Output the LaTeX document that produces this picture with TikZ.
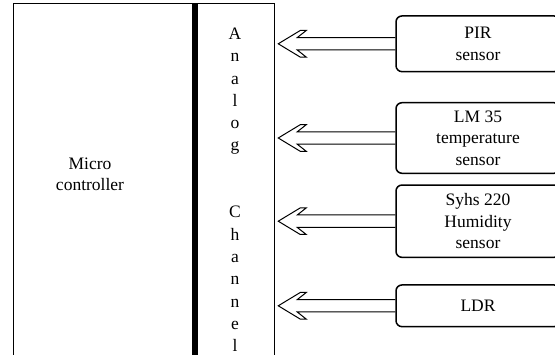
\documentclass[tikz,border=0pt]{standalone}
\usepackage{fontspec}
\setmainfont{Liberation Serif}
\begin{document}
\begin{tikzpicture}[x=1pt,y=-1pt,
  txt/.style={font=\fontsize{17.5}{21.5}\selectfont, inner sep=0pt, align=center},
  sensorbox/.style={draw, line width=1.5pt, rounded corners=6pt, minimum width=164pt, txt},
  arr/.style={line width=1pt, line join=miter},
  frame/.style={line width=1pt}]
\useasboundingbox (0,0) rectangle (555,355);
\clip (0,0) rectangle (555,355);
\fill[white] (0,0) rectangle (555,355);
% microcontroller and analog channel
\draw[frame] (13,365) -- (13,4) -- (274.5,4) -- (274.5,365);
\draw[line width=6pt] (194.5,3.5) -- (194.5,365);
\node[txt] (mc) at (90,174.3) {Micro\\controller};
\coordinate (ch) at (235,0);
\foreach \c [count=\i from 0] in {A,n,a,l,o,g,{},{},C,h,a,n,n,e,l}{
  \node[txt, anchor=base] (ch\i) at (235,39.5+22.3*\i) {\c};
}
% sensors
\node[sensorbox, minimum height=55.7pt] (pir) at (478,43.8) {PIR\\sensor};
\node[sensorbox, minimum height=70.6pt] (lm) at (478,138) {LM 35\\temperature\\sensor};
\node[sensorbox, minimum height=72.3pt] (syhs) at (478,221.2) {Syhs 220\\Humidity\\sensor};
\node[sensorbox, minimum height=41.7pt] (ldr) at (478,305.8) {LDR};
% hollow block arrows
\foreach \s in {pir,lm,syhs,ldr}{
  \draw[arr] ([yshift=6.2pt]\s.west) -- ++(-98,0) -- ++(9,-7.1) -- ++(-6,0)
    -- ++(-22,13.3) -- ++(22,13.3) -- ++(6,0) -- ++(-9,-7.1) -- ++(98,0);
}
\end{tikzpicture}
\end{document}
